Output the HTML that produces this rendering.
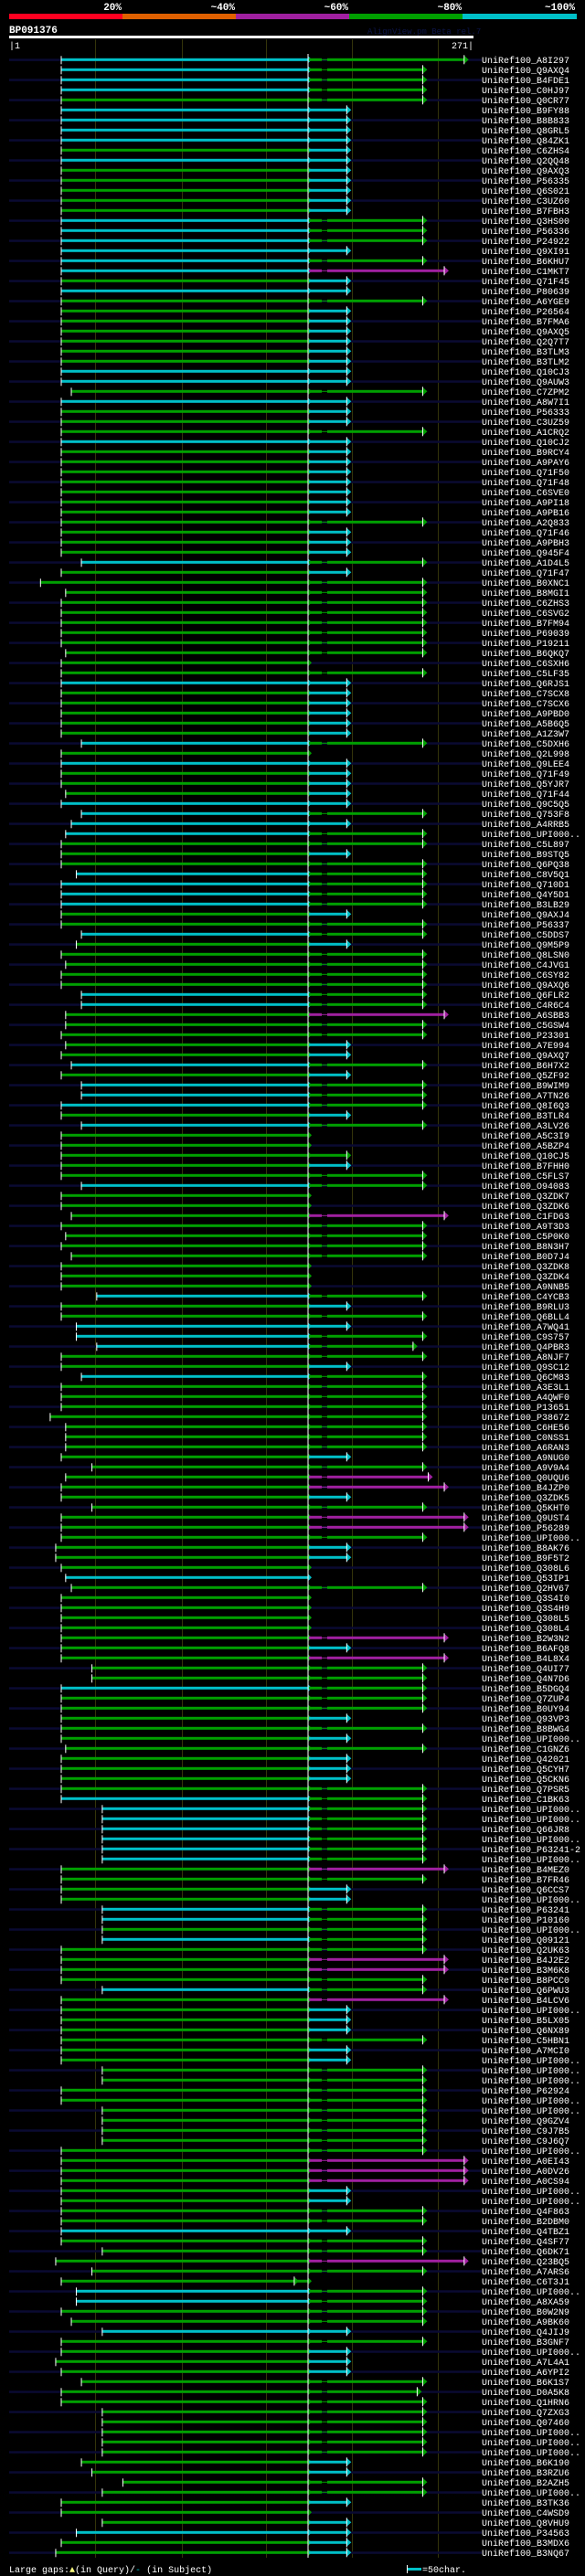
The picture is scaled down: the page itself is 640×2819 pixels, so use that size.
<!DOCTYPE html>
<html><head><meta charset="utf-8">
<style>
html,body{margin:0;padding:0;background:#000;}
body{width:640px;height:2819px;overflow:hidden;}
svg{display:block;}
text{font-family:"Liberation Mono","DejaVu Sans Mono",monospace;}
</style></head>
<body>
<svg id="chart" width="640" height="2819" viewBox="0 0 640 2819" xmlns="http://www.w3.org/2000/svg">
  <rect x="0" y="0" width="640" height="2819" fill="#000"/>
  <g>
    <text x="133" y="11" fill="#fff" font-size="11" font-weight="bold" text-anchor="end">20%</text>
    <text x="257" y="11" fill="#fff" font-size="11" font-weight="bold" text-anchor="end">~40%</text>
    <text x="381" y="11" fill="#fff" font-size="11" font-weight="bold" text-anchor="end">~60%</text>
    <text x="505" y="11" fill="#fff" font-size="11" font-weight="bold" text-anchor="end">~80%</text>
    <text x="629" y="11" fill="#fff" font-size="11" font-weight="bold" text-anchor="end">~100%</text>
    <rect x="10" y="15" width="124" height="6" fill="#ff0020"/>
    <rect x="134" y="15" width="124" height="6" fill="#e06000"/>
    <rect x="258" y="15" width="124" height="6" fill="#a020a0"/>
    <rect x="382" y="15" width="124" height="6" fill="#00a000"/>
    <rect x="506" y="15" width="125" height="6" fill="#00c0c8"/>
  </g>
  <text x="10" y="36" fill="#fff" font-size="11" font-weight="bold">BP091376</text>
  <text x="402" y="37" fill="#0c1448" font-size="9">AlignView.pm Beta rel.7</text>
  <rect x="10" y="39" width="508" height="3" fill="#fff"/>
  <text x="10" y="53" fill="#fff" font-size="10">|1</text>
  <text x="518" y="53" fill="#fff" font-size="10" text-anchor="end">271|</text>
  <g id="grid"></g>
  <g id="rows"></g>
  <g>
    <text x="10" y="2815" fill="#fff" font-size="10">Large gaps:<tspan fill="#ffff80">▲</tspan>(in Query)/<tspan fill="#00c0c8">-</tspan> (in Subject)</text>
    <rect x="445" y="2810" width="16" height="3" fill="#00c0c8"/>
    <rect x="445" y="2807" width="1" height="9" fill="#fff"/>
    <text x="462" y="2815" fill="#fff" font-size="10">=50char.</text>
  </g>
</svg>
<script>
const labels = ["A8I297","Q9AXQ4","B4FDE1","C0HJ97","Q0CR77","B9FY88","B8B833","Q8GRL5","Q84ZK1","C6ZHS4",
"Q2QQ48","Q9AXQ3","P56335","Q6S021","C3UZ60","B7FBH3","Q3HS00","P56336","P24922","Q9XI91",
"B6KHU7","C1MKT7","Q71F45","P80639","A6YGE9","P26564","B7FMA6","Q9AXQ5","Q2Q7T7","B3TLM3",
"B3TLM2","Q10CJ3","Q9AUW3","C7ZPM2","A8W7I1","P56333","C3UZ59","A1CRQ2","Q10CJ2","B9RCY4",
"A9PAY6","Q71F50","Q71F48","C6SVE0","A9PI18","A9PB16","A2Q833","Q71F46","A9PBH3","Q945F4",
"A1D4L5","Q71F47","B0XNC1","B8MGI1","C6ZHS3","C6SVG2","B7FM94","P69039","P19211","B6QKQ7",
"C6SXH6","C5LF35","Q6RJS1","C7SCX8","C7SCX6","A9PBD0","A5B6Q5","A1Z3W7","C5DXH6","Q2L998",
"Q9LEE4","Q71F49","Q5YJR7","Q71F44","Q9C5Q5","Q753F8","A4RRB5","UPI000..","C5L897","B9STQ5",
"Q6PQ38","C8V5Q1","Q710D1","Q4Y5D1","B3LB29","Q9AXJ4","P56337","C5DDS7","Q9M5P9","Q8LSN0",
"C4JVG1","C6SY82","Q9AXQ6","Q6FLR2","C4R6C4","A6SBB3","C5GSW4","P23301","A7E994","Q9AXQ7",
"B6H7X2","Q5ZF92","B9WIM9","A7TN26","Q8I6Q3","B3TLR4","A3LV26","A5C3I9","A5BZP4","Q10CJ5",
"B7FHH0","C5FLS7","O94083","Q3ZDK7","Q3ZDK6","C1FD63","A9T3D3","C5P0K0","B8N3H7","B0D7J4",
"Q3ZDK8","Q3ZDK4","A9NNB5","C4YCB3","B9RLU3","Q6BLL4","A7WQ41","C9S757","Q4PBR3","A8NJF7",
"Q9SC12","Q6CM83","A3E3L1","A4QWF0","P13651","P38672","C6HE56","C0NSS1","A6RAN3","A9NUG0",
"A9V9A4","Q0UQU6","B4JZP0","Q3ZDK5","Q5KHT0","Q9UST4","P56289","UPI000..","B8AK76","B9F5T2",
"Q308L6","Q53IP1","Q2HV67","Q3S4I0","Q3S4H9","Q308L5","Q308L4","B2W3N2","B6AFQ8","B4L8X4",
"Q4UI77","Q4N7D6","B5DGQ4","Q7ZUP4","B0UY94","Q93VP3","B8BWG4","UPI000..","C1GNZ6","Q42021",
"Q5CYH7","Q5CKN6","Q7PSR5","C1BK63","UPI000..","UPI000..","Q66JR8","UPI000..","P63241-2","UPI000..",
"B4MEZ0","B7FR46","Q6CCS7","UPI000..","P63241","P10160","UPI000..","Q09121","Q2UK63","B4J2E2",
"B3M6K8","B8PCC0","Q6PWU3","B4LCV6","UPI000..","B5LX05","Q6NX89","C5HBN1","A7MCI0","UPI000..",
"UPI000..","UPI000..","P62924","UPI000..","UPI000..","Q9GZV4","C9J7B5","C9J6Q7","UPI000..","A0EI43",
"A0DV26","A0CS94","UPI000..","UPI000..","Q4F863","B2DBM0","Q4TBZ1","Q4SF77","Q6DK71","Q23BQ5",
"A7ARS6","C6T3J1","UPI000..","A8XA59","B0W2N9","A9BK60","Q4JIJ9","B3GNF7","UPI000..","A7L4A1",
"A6YPI2","B6K1S7","D0A5K8","Q1HRN6","Q7ZXG3","Q07460","UPI000..","UPI000..","UPI000..","B6K190",
"B3RZU6","B2AZH5","UPI000..","B3TK36","C4WSD9","Q8VHU9","P34563","B3MDX6","B3NQ67"];
const startCodes = "aaaaaaaaaa"+"aaaaaaaaaa"+"aaaaaaaaaa"+"aaacaaaaaa"+"aaaaaaaaaa"+
"ealbaaaaab"+"aaaaaaaaea"+"aaabaecbaa"+"adaaaaaeda"+"baaeebbaba"+
"caeeaaeaaa"+"aaeaacabac"+"aaaiaaddia"+"aeaaakbbba"+"fbaafaaajj"+
"abcaaaaaaa"+"ffaaaaaaba"+"aaaahhhhhh"+"aaaahhhhaa"+"aahaaaaaaa"+
"hhaahhhhaa"+"aaaaaaaahj"+"faddachaaj"+"aeaahhhhhe"+"fmhaahdaj";
const startResidues = {a:1,b:4.2,c:8.3,d:11.9,e:15.6,f:23.2,h:30.7,i:26.7,j:-3,k:-7,l:-14,m:45.6};
const leftColors = "ccccgccccg"+"cgggggcccc"+"ccgcgggggg"+"gccgcgggcg"+"gggggggggg"+
"cggggggggg"+"ggcgggggcg"+"cgggccccgg"+"gccccggcgg"+"gggccggggg"+
"cgcccgcggg"+"ggcggggggg"+"gggcggcccg"+"gcgggggggg"+"gggggggggg"+
"gcgggggggg"+"ggcggggggg"+"gggccccccc"+"ggggccgcgg"+"ggcggggggg"+
"gggggggggg"+"ggggggcggg"+"ggccggcggg"+"gggggggggg"+"ggggggcgg";
const rightTypes = "GLLLLSSSSS"+"SSSSSSLLLS"+"LMSSLSSSSS"+"SSSLSSSLSS"+"SSSSSSLSSS"+
"LSLLLLLLLL"+"NLSSSSSSLN"+"SSSSSLSLLS"+"LLLLLSLLSL"+"LLLLLMLLSS"+
"LSLLLSLNNs"+"SLLNNMLLLL"+"NNNLSLSLPL"+"SLLLLLLLLS"+"LmMSLXXLSS"+
"NNLNNNNMSM"+"LLLLLSLSLS"+"SSLLLLLLLL"+"MLSSLLLLLM"+"MLLMSSSLSS"+
"LLLLLLLLLX"+"XXSSLLSLLX"+"LTLLLLSLSS"+"SLDLLLLLLS"+"SLLSNSSSS";
const endResidues = {S:208,s:208,L:263,P:256,D:259,M:278.6,m:267,X:293,G:293,T:170};
const endColors = {S:"#00c0c8",s:"#00a000",L:"#00a000",P:"#00a000",D:"#00a000",M:"#a020a0",m:"#a020a0",X:"#a020a0",G:"#00a000",T:"#00a000",N:null};
const gridTicks = [25.6,88.5,149.4,211.6,273.8];

const NS = "http://www.w3.org/2000/svg";
function ax(r){ return 66.5 + (r-1)*(270.5/179); }
function yRow(i){ return 65.3 + i*11; }
const COL = {c:"#00c0c8", g:"#00a000"};
function mk(tag, attrs, parent){
  const e = document.createElementNS(NS, tag);
  for (const k in attrs) e.setAttribute(k, attrs[k]);
  parent.appendChild(e);
  return e;
}
const grid = document.getElementById('grid');
gridTicks.forEach((t,k)=>{
  const l = mk('rect',{x:Math.round(ax(t)),y:43,width:1,height:2756,fill:"#34340a"},grid);
  
  
});
const rowsG = document.getElementById('rows');
const QX = 337;
for (let i=0;i<labels.length;i++){
  const y = yRow(i);
  const g = mk('g',{},rowsG);
  
  
  if (i%2===0){
    const bg = mk('rect',{x:10,y:y-1,width:517,height:2.5,fill:"#0a0a32"},g);
    
    
  }
  const sx = ax(startResidues[startCodes[i]]);
  const lc = COL[leftColors[i]];
  const lb = mk('rect',{x:sx,y:y-1.5,width:QX-sx,height:3,fill:lc},g);
  
  
  const st = mk('rect',{x:sx,y:y-4,width:1,height:9,fill:"#fff"},g);
  
  
  const la = mk('polygon',{points:QX+","+(y-4)+" "+(QX+4)+","+y+" "+QX+","+(y+4),fill:lc},g);
  
  
  const t = rightTypes[i];
  const rc = endColors[t];
  if (rc){
    const base = ax(endResidues[t]);
    if (t==='S'||t==='s'||t==='T'){
      const rb = mk('rect',{x:QX+1,y:y-1.5,width:base-QX-1,height:3,fill:rc},g);
      
      
    } else {
      const a = mk('rect',{x:QX+1,y:y-1.5,width:14,height:3,fill:rc},g);
      
      
      const th = mk('rect',{x:QX+15,y:y-0.5,width:6,height:1,fill:rc},g);
      
      
      const b = mk('rect',{x:QX+21,y:y-1.5,width:base-QX-21,height:3,fill:rc},g);
      
      
    }
    const ar = mk('polygon',{points:base+","+(y-4.5)+" "+(base+5)+","+y+" "+base+","+(y+4.5),fill:rc},g);
    
    
    const et = mk('rect',{x:base-0.5,y:y-5,width:1,height:10,fill:"#fff"},g);
    
    
  }
  const txt = "UniRef100_"+labels[i];
  const tx = mk('text',{x:527,y:y+3.5,fill:"#fff","font-size":"10",textLength:txt.length*6,lengthAdjust:"spacingAndGlyphs"},g);
  tx.textContent = txt;
  
  
}
const ql = mk('rect',{x:QX-0.5,y:59,width:1,height:2740,fill:"#fff"},rowsG);


</script>
</body></html>
